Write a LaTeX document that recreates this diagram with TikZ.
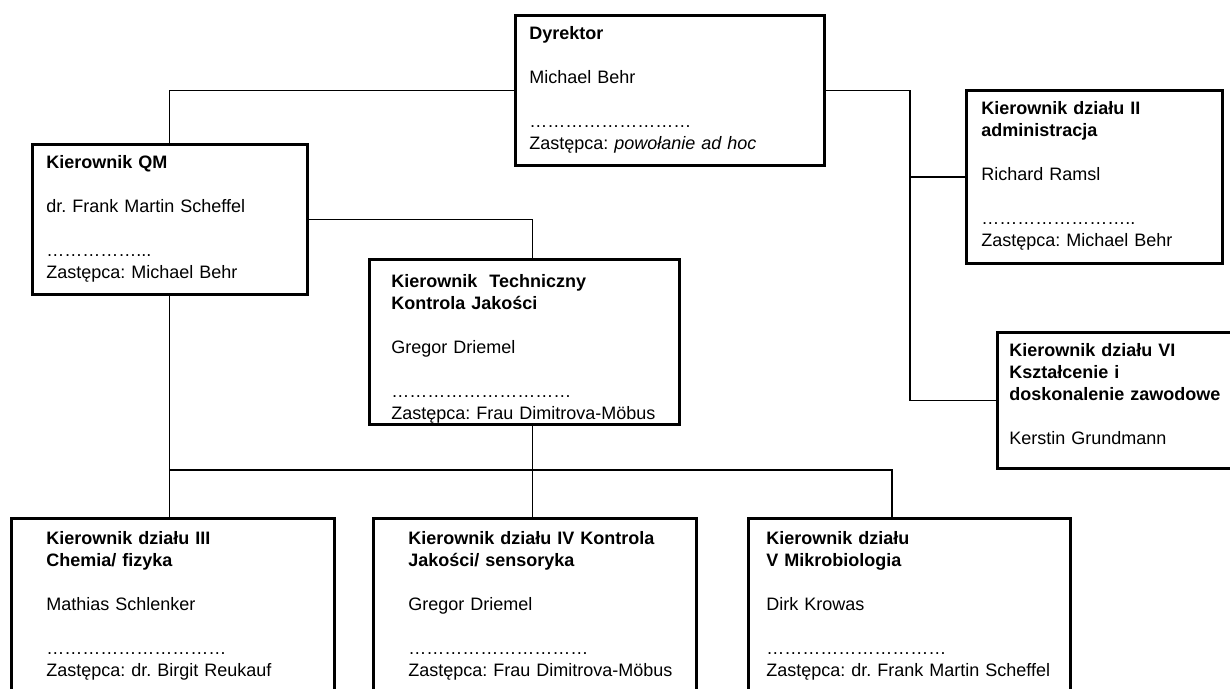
\documentclass[tikz,border=0pt]{standalone}
\usepackage{fontspec}
\setmainfont{Liberation Sans}

\begin{document}
\begin{tikzpicture}[x=1pt,y=-1pt,
    orgbox/.style={draw,line width=2.6pt,anchor=north west,align=left,
      inner ysep=11pt,text height=13pt,font=\fontsize{18pt}{22pt}\selectfont\frenchspacing},
    link/.style={line width=1.3pt}]
    \useasboundingbox (0,0) rectangle (1230,688);

    % top level
    \node[orgbox,inner xsep=14pt,text width=281pt,text depth=115pt] (dyr) at (514,14)
      {\textbf{Dyrektor}\\[22pt]Michael Behr\\[22pt]………………………\\Zastępca: \textit{powołanie ad hoc}};
    \node[orgbox,inner xsep=14pt,text width=247pt,text depth=115pt] (qm) at (31,143)
      {\textbf{Kierownik QM}\\[22pt]dr. Frank Martin Scheffel\\[22pt]……………...\\Zastępca: Michael Behr};
    \node[orgbox,inner xsep=22pt,text width=266pt,text height=17pt,text depth=126pt] (tech) at (368,258)
      {\textbf{Kierownik\ \ Techniczny}\\\textbf{Kontrola Jakości}\\[22pt]Gregor Driemel\\[22pt]…………………………\\\mbox{Zastępca: Frau Dimitrova-Möbus}};
    \node[orgbox,inner xsep=15pt,text width=226pt,text depth=138pt] (adm) at (965,89)
      {\textbf{Kierownik działu II}\\\textbf{administracja}\\[22pt]Richard Ramsl\\[22pt]……………………..\\Zastępca: Michael Behr};
    \node[orgbox,inner xsep=12pt,text width=216pt,text depth=101pt] (vi) at (996,331)
      {\textbf{Kierownik działu VI}\\\textbf{Kształcenie i}\\\textbf{doskonalenie zawodowe}\\[22pt]Kerstin Grundmann};

    % departments
    \node[orgbox,inner xsep=35pt,inner ysep=13pt,text width=253pt,text depth=151pt] (d3) at (10,517)
      {\textbf{Kierownik działu III}\\\textbf{Chemia/ fizyka}\\[22pt]Mathias Schlenker\\[22pt]…………………………\\Zastępca: dr. Birgit Reukauf};
    \node[orgbox,inner xsep=35pt,inner ysep=13pt,text width=253pt,text depth=151pt] (d4) at (372,517)
      {\textbf{Kierownik działu IV Kontrola}\\\textbf{Jakości/ sensoryka}\\[22pt]Gregor Driemel\\[22pt]…………………………\\\mbox{Zastępca: Frau Dimitrova-Möbus}};
    \node[orgbox,inner xsep=18pt,inner ysep=13pt,text width=286pt,text depth=151pt] (d5) at (747,517)
      {\textbf{Kierownik działu}\\\textbf{V Mikrobiologia}\\[22pt]Dirk Krowas\\[22pt]…………………………\\\mbox{Zastępca: dr. Frank Martin Scheffel}};

    \coordinate (rbus) at (910,89);
    \coordinate (lbus) at (892,470);

    \draw[link] (dyr.west) -| (qm.north);
    \draw[link] (dyr.east) -| (rbus |- vi.west) -- (vi.west);
    \draw[link,line width=2pt] (rbus |- adm.west) -- (adm.west);
    \draw[link] (qm.east) -| ([xshift=8pt]tech.north);
    \draw[link] (qm.south) -- (qm.south |- d3.north);
    \draw[link] (qm.south |- lbus) -- (lbus) -- (lbus |- d5.north);
    \draw[link] ([xshift=8pt]tech.south) -- ([xshift=8pt]tech.south |- d4.north);
\end{tikzpicture}
\end{document}
